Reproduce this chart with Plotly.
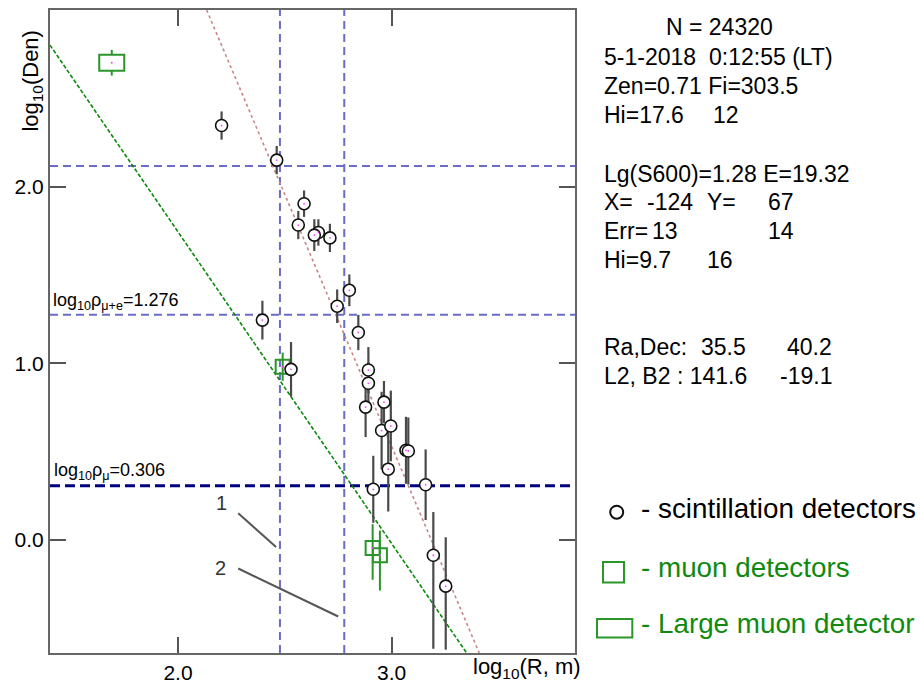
import math
import plotly.graph_objects as go

# ---- scintillation detectors: log10(R, m), log10(Den), errors ----
sc_x = [2.204, 2.462, 2.395, 2.590, 2.563, 2.657, 2.638, 2.711, 2.802, 2.745,
        2.844, 2.529, 2.891, 2.891, 2.878, 2.964, 2.953, 2.996, 2.984, 3.067,
        3.078, 2.914, 3.159, 3.195, 3.253]
sc_y = [2.348, 2.152, 1.245, 1.905, 1.784, 1.742, 1.727, 1.711, 1.414, 1.324,
        1.175, 0.966, 0.962, 0.887, 0.752, 0.780, 0.619, 0.645, 0.400, 0.507,
        0.503, 0.286, 0.312, -0.088, -0.263]
sc_err_plus = [0.08, 0.08, 0.11, 0.075, 0.08, 0.075, 0.09, 0.08, 0.09, 0.095,
               0.10, 0.155, 0.13, 0.12, 0.17, 0.12, 0.22, 0.20, 0.24, 0.19,
               0.19, 0.19, 0.20, 0.245, 0.277]
sc_err_minus = [0.08, 0.08, 0.11, 0.075, 0.08, 0.075, 0.09, 0.08, 0.09, 0.095,
                0.10, 0.155, 0.13, 0.12, 0.17, 0.12, 0.22, 0.20, 0.24, 0.19,
                0.19, 0.19, 0.20, 0.53, 0.36]

# ---- muon detectors ----
mu_x = [2.490, 2.911, 2.945]
mu_y = [0.981, -0.047, -0.088]
mu_err_plus = [0.08, 0.135, 0.14]
mu_err_minus = [0.08, 0.18, 0.20]

# ---- large muon detector ----
lm_x = [1.690]
lm_y = [2.704]
lm_err = [0.073]

# ---- fitted lateral distribution lines (end points) ----
fit_x = [2.134, 3.410]
fit_y = [3.003, -0.642]
mufit_x = [1.401, 3.351]
mufit_y = [2.804, -0.642]

# ---- reference levels ----
r_levels = [math.log10(300), math.log10(600)]   # R = 300 m, 600 m
den_upper = 2.118
rho_mu_e = 1.276
rho_mu = 0.306

x_ticks = [2.0, 3.0]
y_ticks = [0.0, 1.0, 2.0]

info_lines = [
    [("N = 24320", 666)],
    [("5-1-2018", 604), ("0:12:55 (LT)", 709)],
    [("Zen=0.71 Fi=303.5", 604)],
    [("Hi=17.6", 604), ("12", 713)],
    [("Lg(S600)=1.28 E=19.32", 604)],
    [("X=", 604), ("-124", 647), ("Y=", 707), ("67", 768)],
    [("Err=", 604), ("13", 652), ("14", 768)],
    [("Hi=9.7", 604), ("16", 707)],
    [("Ra,Dec:", 604), ("35.5", 701), ("40.2", 786.5)],
    [("L2, B2 : 141.6", 604), ("-19.1", 780)],
]
info_y = [25, 55.7, 84.4, 113.4, 173.4, 201, 230, 260, 346.7, 376.7]

FONT = "Liberation Sans, Arial, sans-serif"
GREEN = "#2a962a"
GREEN_TXT = "#0f8a0f"
BLUE = "#6b6bc8"
NAVY = "#00007f"

W, H = 920, 692
ML, MR, MT, MB = 50, 345, 8, 37
PW, PH = W - ML - MR, H - MT - MB


def px(xp):
    return (xp - ML) / PW


def py(yp):
    return (H - MB - yp) / PH


fig = go.Figure()

# fit lines
fig.add_trace(go.Scatter(x=fit_x, y=fit_y, mode="lines",
                         line=dict(color="#c98585", width=1.6, dash="dot"),
                         hoverinfo="skip"))
fig.add_trace(go.Scatter(x=mufit_x, y=mufit_y, mode="lines",
                         line=dict(color="#0a8a0a", width=1.6, dash="4px,2px"),
                         hoverinfo="skip"))

# large muon detector: error bar (box drawn as a shape)
fig.add_trace(go.Scatter(x=lm_x, y=lm_y, mode="markers",
                         marker=dict(size=1, color="rgba(0,0,0,0)"),
                         error_y=dict(type="data", array=lm_err, color=GREEN,
                                      thickness=2, width=0)))

# muon detectors
fig.add_trace(go.Scatter(x=mu_x, y=mu_y, mode="markers",
                         marker=dict(symbol="square-open", size=14, color=GREEN,
                                     line=dict(width=2, color=GREEN)),
                         error_y=dict(type="data", symmetric=False,
                                      array=mu_err_plus, arrayminus=mu_err_minus,
                                      color=GREEN, thickness=2, width=0)))

# scintillation detectors
fig.add_trace(go.Scatter(x=sc_x, y=sc_y, mode="markers",
                         marker=dict(symbol="circle", size=12, color="white",
                                     line=dict(width=1.6, color="#111")),
                         error_y=dict(type="data", symmetric=False,
                                      array=sc_err_plus, arrayminus=sc_err_minus,
                                      color="#4a4a4a", thickness=2.2, width=0)))

# centre dots
fig.add_trace(go.Scatter(x=sc_x + mu_x, y=sc_y + mu_y, mode="markers",
                         marker=dict(size=1.8, color="#ff40ff"),
                         hoverinfo="skip"))

shapes = []
for xv in r_levels:
    shapes.append(dict(type="line", xref="x", yref="paper", x0=xv, x1=xv, y0=0, y1=1,
                       line=dict(color=BLUE, width=2, dash="8px,5px"), layer="below"))
for yv in [den_upper, rho_mu_e]:
    shapes.append(dict(type="line", xref="paper", yref="y", x0=0, x1=1, y0=yv, y1=yv,
                       line=dict(color=BLUE, width=2, dash="8px,5px"), layer="below"))
shapes.append(dict(type="line", xref="paper", yref="y", x0=0, x1=1, y0=rho_mu, y1=rho_mu,
                   line=dict(color=NAVY, width=3, dash="10px,5px"), layer="below"))

# pointer lines for labels 1 and 2
shapes.append(dict(type="line", xref="x", yref="y", x0=2.282, y0=0.150, x1=2.459, y1=-0.041,
                   line=dict(color="#555", width=2)))
shapes.append(dict(type="line", xref="x", yref="y", x0=2.282, y0=-0.163, x1=2.750, y1=-0.435,
                   line=dict(color="#555", width=2)))

# large muon detector box
shapes.append(dict(type="rect", xref="x", yref="y", xsizemode="pixel", ysizemode="pixel",
                   xanchor=lm_x[0], yanchor=lm_y[0], x0=-12.5, x1=12.5, y0=-8, y1=8,
                   line=dict(color=GREEN, width=2), fillcolor="white", layer="above"))
shapes.append(dict(type="circle", xref="x", yref="y", xsizemode="pixel", ysizemode="pixel",
                   xanchor=lm_x[0], yanchor=lm_y[0], x0=-1, x1=1, y0=-1, y1=1,
                   line=dict(width=0), fillcolor="#ff40ff", layer="above"))

# legend glyphs
shapes.append(dict(type="circle", xref="paper", yref="paper",
                   x0=px(610.2), x1=px(623.2), y0=py(519.8), y1=py(506.8),
                   line=dict(color="#111", width=2)))
shapes.append(dict(type="rect", xref="paper", yref="paper",
                   x0=px(603), x1=px(624), y0=py(584), y1=py(563.5),
                   line=dict(color=GREEN, width=2)))
shapes.append(dict(type="rect", xref="paper", yref="paper",
                   x0=px(597), x1=px(632.3), y0=py(639.3), y1=py(620.7),
                   line=dict(color=GREEN, width=2)))

annotations = []
# parameter block
for line, yc in zip(info_lines, info_y):
    for txt, xs in line:
        annotations.append(dict(text=txt, xref="paper", yref="paper", x=px(xs - 2), y=py(yc),
                                xanchor="left", yanchor="middle", showarrow=False,
                                font=dict(family=FONT, size=23, color="black")))

# legend text
legend_items = [("- scintillation detectors", 510, "black"),
                ("- muon detectors", 568.6, GREEN_TXT),
                ("- Large muon detector", 625.3, GREEN_TXT)]
for txt, yc, col in legend_items:
    annotations.append(dict(text=txt, xref="paper", yref="paper", x=px(638.5), y=py(yc),
                            xanchor="left", yanchor="middle", showarrow=False,
                            font=dict(family=FONT, size=27.8, color=col)))

# level labels
annotations.append(dict(text="log<sub>10</sub>ρ<sub>μ+e</sub>=%.3f" % rho_mu_e,
                        xref="paper", yref="y", x=px(51), y=rho_mu_e, yshift=0,
                        xanchor="left", yanchor="bottom", showarrow=False,
                        font=dict(family=FONT, size=18, color="black")))
annotations.append(dict(text="log<sub>10</sub>ρ<sub>μ</sub>=%.3f" % rho_mu,
                        xref="paper", yref="y", x=px(52), y=rho_mu, yshift=1,
                        xanchor="left", yanchor="bottom", showarrow=False,
                        font=dict(family=FONT, size=18, color="black")))

# labels 1 and 2
annotations.append(dict(text="1", xref="x", yref="y", x=2.204, y=0.209,
                        showarrow=False, font=dict(family=FONT, size=20, color="#333")))
annotations.append(dict(text="2", xref="x", yref="y", x=2.201, y=-0.159,
                        showarrow=False, font=dict(family=FONT, size=20, color="#333")))

# axis titles
annotations.append(dict(text="log<sub>10</sub>(R, m)", xref="paper", yref="paper",
                        x=px(527), y=py(670), xanchor="center", yanchor="middle",
                        showarrow=False, font=dict(family=FONT, size=22, color="black")))
annotations.append(dict(text="log<sub>10</sub>(Den)", xref="paper", yref="paper",
                        x=px(32), y=py(79), xanchor="center", yanchor="middle",
                        textangle=-90, showarrow=False,
                        font=dict(family=FONT, size=22, color="black")))

axis_common = dict(showgrid=False, zeroline=False, showline=True, linecolor="#666",
                   linewidth=2, mirror="allticks", ticks="inside", ticklen=16,
                   tickwidth=2, tickcolor="#555", tickformat=".1f",
                   tickfont=dict(family=FONT, size=21, color="black"))

fig.update_layout(
    width=W, height=H,
    margin=dict(l=ML, r=MR, t=MT, b=MB),
    plot_bgcolor="white", paper_bgcolor="white",
    showlegend=False,
    xaxis=dict(range=[1.401, 3.858], tickvals=x_ticks, **axis_common),
    yaxis=dict(range=[-0.642, 3.003], tickvals=y_ticks, **axis_common),
    shapes=shapes,
    annotations=annotations,
)

fig.write_html("out.html")
